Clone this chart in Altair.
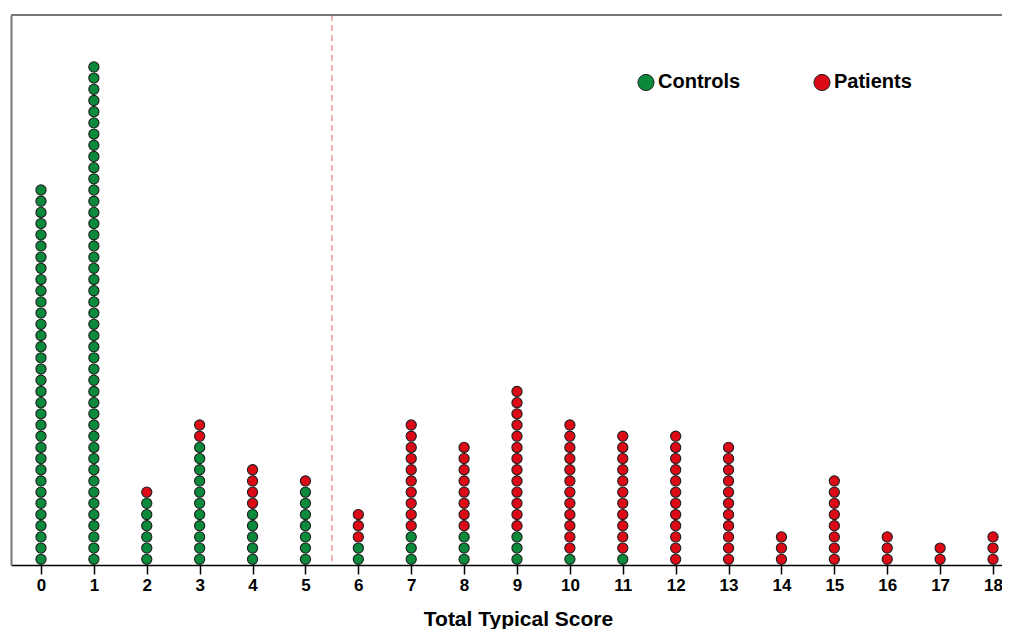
import altair as alt
import pandas as pd

scores = list(range(19))
controls = [34, 45, 6, 11, 5, 7, 2, 3, 3, 3, 1, 1, 0, 0, 0, 0, 0, 0, 0]
patients = [0, 0, 1, 2, 4, 1, 3, 10, 8, 13, 12, 11, 12, 11, 3, 8, 3, 2, 3]
groups = ["Controls", "Patients"]
colors = ["#0a8a3a", "#dc0a16"]
cutoff = [5.5]

rows = []
for s, c, p in zip(scores, controls, patients):
    for i in range(c):
        rows.append({"score": s, "level": i, "group": "Controls"})
    for j in range(p):
        rows.append({"score": s, "level": c + j, "group": "Patients"})
df = pd.DataFrame(rows)

W, H = 991, 550
FONT = "Liberation Sans"

xscale = alt.Scale(domain=[-0.567, 18.17], nice=False, zero=False)
yscale = alt.Scale(domain=[-0.51, 48.64], nice=False, zero=False)

points = alt.Chart(df).mark_circle(
    size=104, opacity=1, stroke="#1e1e1e", strokeWidth=1.1
).encode(
    x=alt.X("score:Q", scale=xscale, axis=alt.Axis(
        values=scores, format="d", grid=False, tickSize=9, tickColor="black",
        tickWidth=1.5, domainColor="black", domainWidth=1.5,
        labelFont=FONT, labelFontSize=17, labelFontWeight="bold",
        labelColor="black", labelPadding=3,
        title="Total Typical Score", titleFont=FONT, titleFontSize=21,
        titleFontWeight="bold", titleColor="black", titleX=507, titleY=54,
        titleBaseline="middle", titleAlign="center")),
    y=alt.Y("level:Q", scale=yscale, axis=alt.Axis(
        labels=False, ticks=False, grid=False, title=None,
        domainColor="#777777", domainWidth=2)),
    color=alt.Color("group:N", scale=alt.Scale(domain=groups, range=colors),
                    legend=alt.Legend(
                        title=None, orient="none", legendX=625, legendY=57,
                        direction="horizontal", padding=0,
                        symbolType="circle", symbolSize=260,
                        symbolStrokeColor="#1e1e1e", symbolStrokeWidth=1,
                        labelFont=FONT, labelFontSize=20, labelFontWeight="bold",
                        labelColor="black", labelOffset=2, columnPadding=70)),
)

cut = alt.Chart(pd.DataFrame({"cut": cutoff})).mark_rule(
    color="#f07c86", strokeDash=[6, 4], strokeWidth=1.2
).encode(x=alt.X("cut:Q", scale=xscale))

top_border = alt.Chart(pd.DataFrame({"cut": cutoff})).mark_rule(
    color="#777777", strokeWidth=2
).encode(x=alt.value(0), x2=alt.value(W), y=alt.value(0))

chart = alt.layer(cut, top_border, points).properties(
    width=W, height=H, autosize="none",
    padding={"left": 3, "top": 7, "right": 0, "bottom": 64},
).configure_view(stroke=None)

chart.save("out.html", embed_options={"renderer": "svg", "actions": False})
